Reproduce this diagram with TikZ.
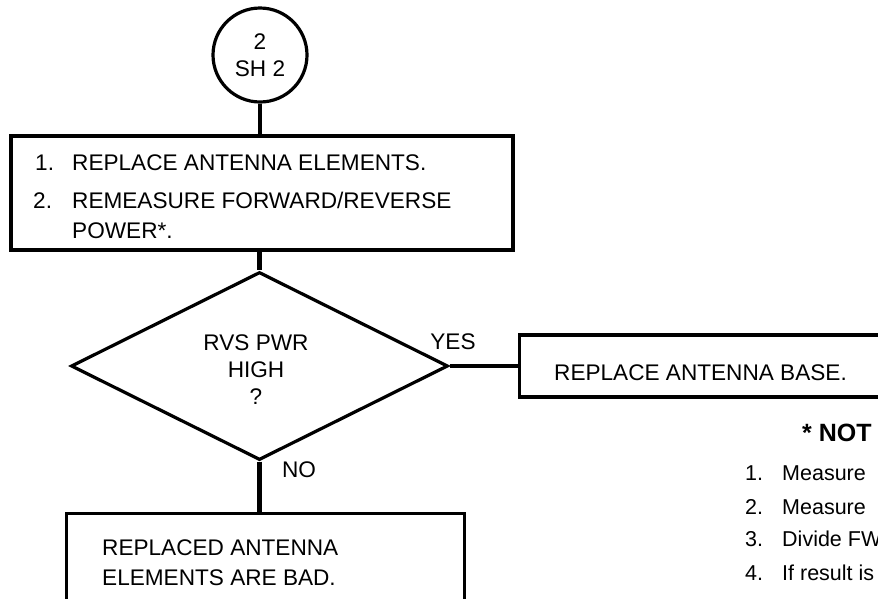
\documentclass[tikz,border=0pt]{standalone}
\usepackage{fontspec}
\setmainfont{Liberation Sans}
\usetikzlibrary{shapes.geometric}
\begin{document}
\begin{tikzpicture}[x=1pt,y=-1pt,
  shapebox/.style={draw, line width=3.2pt, inner sep=0pt},
  conn/.style={line width=4.5pt},
  hconn/.style={line width=3.2pt},
  txt/.style={font=\fontsize{22.6}{27}\selectfont, inner sep=0pt},
  ntxt/.style={font=\fontsize{21.5}{26}\selectfont, inner sep=0pt, anchor=base west}]
\useasboundingbox (0,0) rectangle (878,598);
\clip (0,0) rectangle (878,598);
% shapes
\node[shapebox, circle, minimum size=94pt, txt, align=center] (circ) at (260,55) {2\\SH 2};
\node[shapebox, minimum width=502pt, minimum height=114pt] (box1) at (262,193) {};
\node[shapebox, diamond, minimum width=377pt, minimum height=188pt] (dia) at (259.5,366) {};
\node[shapebox, minimum width=390pt, minimum height=62pt, anchor=west] (yesbox) at (518,366) {};
\node[shapebox, minimum width=398pt, minimum height=120pt, anchor=north west] (nobox) at (65,512) {};
% texts
\node[txt, anchor=base west] (b1n1) at (35,170) {1.};
\node[txt, anchor=base west] (b1t1) at (72,170) {REPLACE ANTENNA ELEMENTS.};
\node[txt, anchor=base west] (b1n2) at (33,208) {2.};
\node[txt, anchor=base west] (b1t2) at (72,208) {REMEASURE FORWARD/REVERSE};
\node[txt, anchor=base west] (b1t3) at (72,238) {POWER*.};
\node[txt, align=center] (dtext) at (256,370) {RVS PWR\\HIGH\\?};
\node[txt] (yes) at (453,342) {YES};
\node[txt] (no) at (299,470) {NO};
\node[txt, anchor=base west] (yestext) at (554,380) {REPLACE ANTENNA BASE.};
\node[txt, anchor=base west] (notext1) at (102,555) {REPLACED ANTENNA};
\node[txt, anchor=base west] (notext2) at (102,585) {ELEMENTS ARE BAD.};
% note
\node[ntxt, font=\fontsize{25}{28}\selectfont\bfseries] (note) at (802,441) {* NOT};
\node[ntxt] (n1) at (745,480) {1.};
\node[ntxt] (n1t) at (782,480) {Measure};
\node[ntxt] (n2) at (745,514) {2.};
\node[ntxt] (n2t) at (782,514) {Measure};
\node[ntxt] (n3) at (745,546) {3.};
\node[ntxt] (n3t) at (782,546) {Divide FW};
\node[ntxt] (n4) at (745,580) {4.};
\node[ntxt] (n4t) at (782,580) {If result is};
% connectors
\draw[conn] (circ.south) -- (circ.south |- box1.north);
\draw[conn] (dia.north |- box1.south) -- (dia.north);
\draw[hconn] (dia.east) -- (yesbox.west);
\draw[conn] (dia.south) -- (dia.south |- nobox.north);
\end{tikzpicture}
\end{document}
